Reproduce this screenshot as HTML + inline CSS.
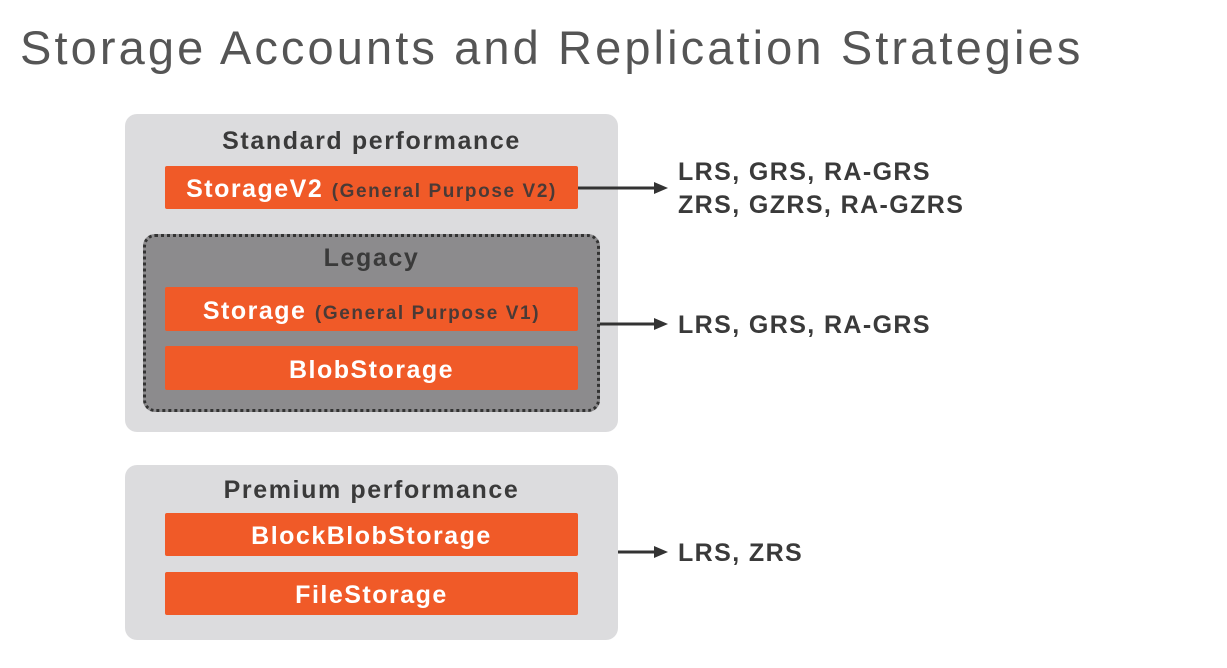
<!DOCTYPE html>
<html><head><style>
body{margin:0;width:1227px;height:668px;background:#fff;position:relative;overflow:hidden;font-family:"Liberation Sans",sans-serif;}
.a{position:absolute;}
.title{left:20px;top:20px;font-size:47px;color:#555;font-weight:300;letter-spacing:3.1px;white-space:nowrap;}
.box{background:#dcdcde;border-radius:12px;}
.hdr{position:absolute;width:100%;text-align:center;font-size:25px;font-weight:bold;color:#3a3a3a;letter-spacing:1.6px;}
.bar{background:#f05a28;color:#fff;font-weight:bold;font-size:25px;text-align:center;line-height:48px;border-radius:2px;white-space:nowrap;letter-spacing:1.5px;}
.bar small{font-size:19px;color:#4a3a36;letter-spacing:1.6px;}
.leg{background:#8c8b8d;border:3px dotted #333;border-radius:12px;box-sizing:border-box;}
.lbl{font-size:25px;font-weight:bold;color:#3a3a3a;line-height:33px;white-space:nowrap;letter-spacing:1.4px;}
</style></head><body>
<div class="a title">Storage Accounts and Replication Strategies</div>
<div class="a box" style="left:125px;top:114px;width:493px;height:318px;"><div class="hdr" style="top:13px;">Standard performance</div></div>
<div class="a bar" style="left:165px;top:166px;width:413px;height:43px;line-height:47px;">StorageV2 <small>(General Purpose V2)</small></div>
<div class="a leg" style="left:143px;top:234px;width:457px;height:178px;"><div class="hdr" style="top:7px;color:#3a3a3a;">Legacy</div></div>
<div class="a bar" style="left:165px;top:287px;width:413px;height:44px;">Storage <small>(General Purpose V1)</small></div>
<div class="a bar" style="left:165px;top:346px;width:413px;height:44px;">BlobStorage</div>
<div class="a box" style="left:125px;top:465px;width:493px;height:175px;"><div class="hdr" style="top:11px;">Premium performance</div></div>
<div class="a bar" style="left:165px;top:513px;width:413px;height:43px;line-height:47px;">BlockBlobStorage</div>
<div class="a bar" style="left:165px;top:572px;width:413px;height:43px;line-height:47px;">FileStorage</div>
<svg class="a" style="left:0;top:0" width="1227" height="668">
<g stroke="#333" stroke-width="3"><line x1="578" y1="188" x2="656" y2="188"/><line x1="600" y1="324" x2="656" y2="324"/><line x1="618" y1="552" x2="656" y2="552"/></g>
<g fill="#333"><polygon points="654,182 668,188 654,194"/><polygon points="654,318 668,324 654,330"/><polygon points="654,546 668,552 654,558"/></g>
</svg>
<div class="a lbl" style="left:678px;top:156px;">LRS, GRS, RA-GRS<br>ZRS, GZRS, RA-GZRS</div>
<div class="a lbl" style="left:678px;top:309px;">LRS, GRS, RA-GRS</div>
<div class="a lbl" style="left:678px;top:537px;">LRS, ZRS</div>
</body></html>
